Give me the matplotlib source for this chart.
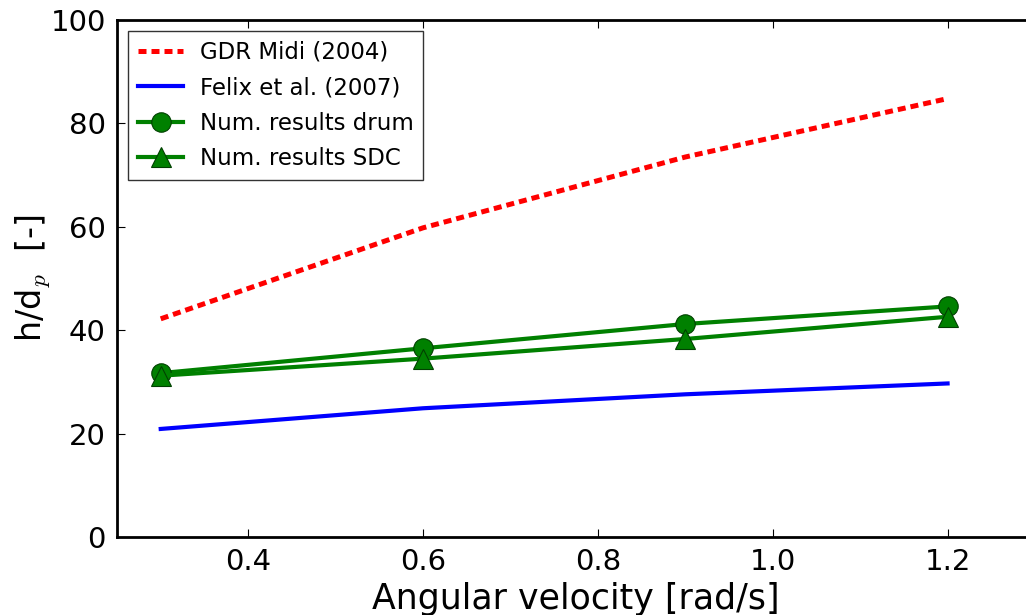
import matplotlib
matplotlib.use("Agg")
import matplotlib.pyplot as plt

omega = [0.3, 0.6, 0.9, 1.2]
gdr_midi = [42.2, 59.8, 73.5, 84.8]
felix = [20.9, 24.9, 27.6, 29.7]
drum = [31.7, 36.5, 41.2, 44.6]
sdc = [31.2, 34.5, 38.3, 42.6]

xticks = [0.4, 0.6, 0.8, 1.0, 1.2]
yticks = [0, 20, 40, 60, 80, 100]

plt.rcParams['font.family'] = ['DejaVu Sans']
plt.rcParams['mathtext.fontset'] = 'cm'

fig = plt.figure(figsize=(10.26, 6.15), dpi=100)
ax = fig.add_axes([117/1026, 1-537/615, (1035-117)/1026, (537-20)/615])

ax.plot(omega, gdr_midi, color='red', lw=3.6, dashes=(1.6, 1.0), label='GDR Midi (2004)')
ax.plot(omega, felix, color='blue', lw=3.0, label='Felix et al. (2007)')
ax.plot(omega, drum, color='green', lw=3.0, marker='o', markersize=14,
        markerfacecolor='green', markeredgecolor='#004000', markeredgewidth=0.8,
        label='Num. results drum')
ax.plot(omega, sdc, color='green', lw=3.0, marker='^', markersize=14,
        markerfacecolor='green', markeredgecolor='#004000', markeredgewidth=0.8,
        label='Num. results SDC')

ax.set_xlim(0.25, 1.3)
ax.set_ylim(0, 100)
ax.set_xticks(xticks)
ax.set_yticks(yticks)
ax.tick_params(direction='in', length=6, width=0.8, top=True, right=True,
               labelsize=21, pad=8)
for s in ax.spines.values():
    s.set_linewidth(2.0)

ax.set_xlabel('Angular velocity [rad/s]', fontsize=25, labelpad=4)
ax.set_ylabel('h/d$_p$  [-]', fontsize=24)
ax.yaxis.set_label_coords(-0.071, 0.5)

leg = ax.legend(loc='upper left', fontsize=16.5, frameon=True, fancybox=False,
                borderaxespad=0.5, handlelength=2.0, labelspacing=0.55,
                numpoints=1, borderpad=0.4, handletextpad=0.7)
leg.get_frame().set_edgecolor('black')
leg.get_frame().set_linewidth(1.0)

fig.savefig('out.png', dpi=100)
